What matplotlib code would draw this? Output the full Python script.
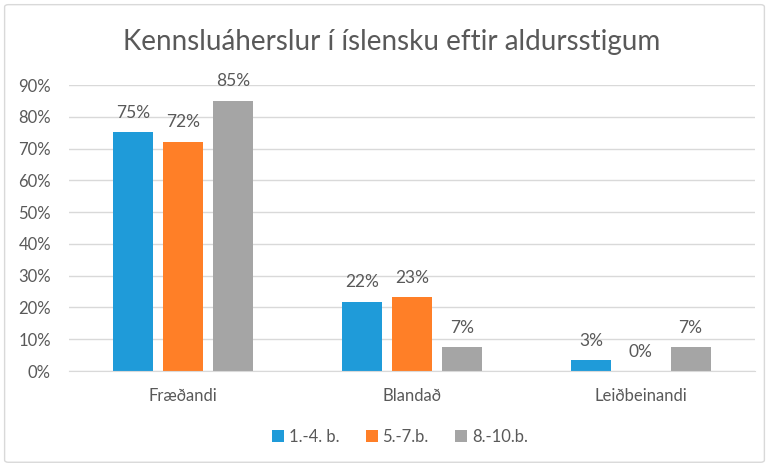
import matplotlib
matplotlib.use("Agg")
import matplotlib.pyplot as plt
import numpy as np
from matplotlib.patches import FancyBboxPatch

categories = ["Fræðandi", "Blandað", "Leiðbeinandi"]
series_names = ["1.-4. b.", "5.-7.b.", "8.-10.b."]
s1 = [0.752, 0.218, 0.034]
s2 = [0.721, 0.232, 0.0]
s3 = [0.850, 0.074, 0.074]
yticks = [0, 0.1, 0.2, 0.3, 0.4, 0.5, 0.6, 0.7, 0.8, 0.9]
colors = ["#1F9BD9", "#FF7F27", "#A5A5A5"]
text_color = "#595959"

plt.rcParams['font.family'] = ['Lato', 'DejaVu Sans']

fig = plt.figure(figsize=(7.69, 4.66), dpi=100)
fig.patches.append(FancyBboxPatch((0.006, 0.008), 0.988, 0.982, boxstyle="round,pad=0,rounding_size=0.005",
                                  transform=fig.transFigure, fill=False, edgecolor="#D9D9D9", linewidth=1.0))
left, right = 69.0, 755.0
ax = fig.add_axes([left/769, 1 - 371/466, (right - left)/769, (371 - 85)/466])

x = np.arange(len(categories))
w = 0.175
step = 0.218
for i, (vals, name, c) in enumerate(zip([s1, s2, s3], series_names, colors)):
    pos = x + (i - 1) * step
    ax.bar(pos, vals, width=w, color=c, label=name, zorder=3)
    for xi, v in zip(pos, vals):
        ax.text(xi, v + 0.036, "{:.0f}%".format(round(v * 100)), ha="center", va="bottom",
                fontsize=12.5, color=text_color)

ax.set_xlim(-0.5, 2.5)
ax.set_ylim(0, 0.9)
ax.set_yticks(yticks)
ax.set_yticklabels(["{:.0f}%".format(t * 100) for t in yticks])
ax.set_xticks(x)
ax.set_xticklabels(categories)
ax.tick_params(axis="both", length=0, labelsize=12, colors=text_color)
ax.tick_params(axis="x", pad=12)
ax.tick_params(axis="y", pad=13)
ax.grid(axis="y", color="#D9D9D9", linewidth=1.0, zorder=0)
for sp in ["top", "right", "left"]:
    ax.spines[sp].set_visible(False)
ax.spines["bottom"].set_color("#D9D9D9")
ax.spines["bottom"].set_zorder(4)

fig.text(392/769, 1 - 42/466, "Kennsluáherslur í íslensku eftir aldursstigum", ha="center", va="center",
         fontsize=20, color=text_color)

leg = fig.legend(loc="center", bbox_to_anchor=(400/769, 1 - 437/466), ncol=3, frameon=False,
                 fontsize=12, handlelength=0.7, handleheight=0.7, handletextpad=0.3, columnspacing=1.6)
for t in leg.get_texts():
    t.set_color(text_color)

fig.savefig("out.png", dpi=100)
